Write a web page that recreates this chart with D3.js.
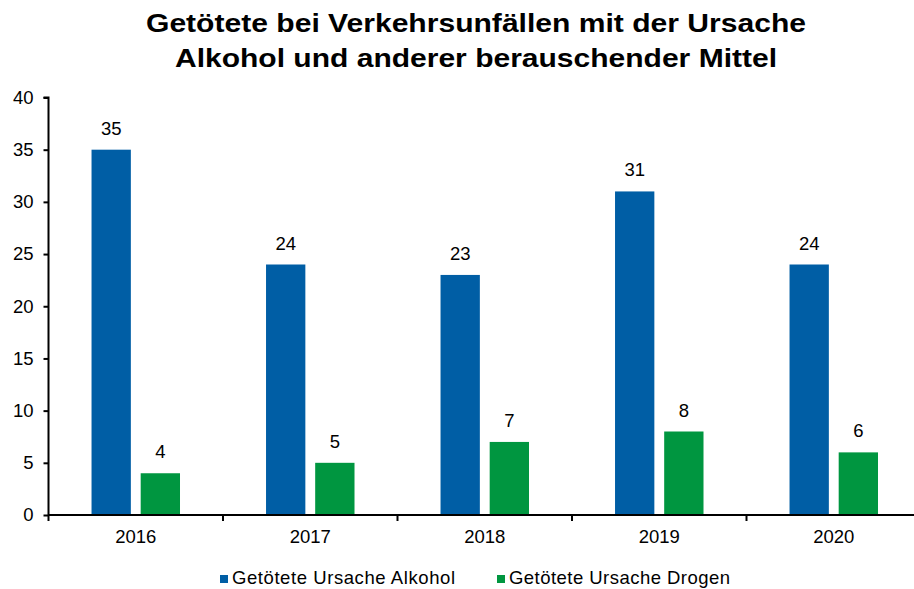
<!DOCTYPE html>
<html><head><meta charset="utf-8">
<script src="https://cdn.jsdelivr.net/npm/d3@7"></script>
<style>body{margin:0;background:#fff}svg{display:block}text{font-family:"Liberation Sans",Arial,sans-serif}</style>
</head><body>
<svg id="c" width="914" height="589"></svg>
<script>
const titleLines = ["Getötete bei Verkehrsunfällen mit der Ursache", "Alkohol und anderer berauschender Mittel"];
const categories = ["2016", "2017", "2018", "2019", "2020"];
const seriesNames = ["Getötete Ursache Alkohol", "Getötete Ursache Drogen"];
const alkohol = [35, 24, 23, 31, 24];
const drogen = [4, 5, 7, 8, 6];
const yTicks = [0, 5, 10, 15, 20, 25, 30, 35, 40];
const colors = ["#005EA5", "#009640"];

const FS = 18.5;
const svg = d3.select("#c");
const pLeft = 48.5, pRight = 921, pTop = 97.5, pBottom = 515;
const x0 = d3.scaleBand().domain(categories).range([pLeft, pRight]).padding(0);
const bw = x0.bandwidth();
const x1 = d3.scaleBand().domain([0, 1]).range([bw * 0.2466, bw * 0.7536]).paddingInner(0.2);
const y = d3.scaleLinear().domain([0, 40]).range([pBottom, pTop]);

// title
titleLines.forEach((t, i) => {
  svg.append("text").attr("x", 476).attr("y", 32 + i * 35)
    .attr("text-anchor", "middle").attr("font-size", 26).attr("font-weight", "bold").attr("fill", "#000").text(t)
    .attr("textLength", i === 0 ? 660 : 602).attr("lengthAdjust", "spacingAndGlyphs");
});

// bars
const data = categories.map((c, i) => ({c, v: [alkohol[i], drogen[i]]}));
const g = svg.append("g");
data.forEach(d => {
  d.v.forEach((v, s) => {
    const bx = x0(d.c) + x1(s);
    g.append("rect").attr("x", bx).attr("y", y(v)).attr("width", x1.bandwidth()).attr("height", y(0) - y(v)).attr("fill", colors[s]);
    g.append("text").attr("x", bx + x1.bandwidth() / 2).attr("y", y(v) - 15)
      .attr("text-anchor", "middle").attr("font-size", FS).attr("fill", "#000").text(v);
  });
});

// y axis
const yAxis = d3.axisLeft(y).tickValues(yTicks).tickSize(5).tickPadding(10);
const ya = svg.append("g").attr("transform", `translate(${pLeft},0)`).call(yAxis);
ya.select(".domain").attr("stroke", "#000").attr("stroke-width", 2).attr("d", `M-5,${pTop}H0V${pBottom}`);
ya.selectAll(".tick line").attr("stroke", "#000").attr("stroke-width", 2);
ya.selectAll(".tick text").attr("font-size", FS).attr("fill", "#000").attr("font-family", "Liberation Sans, Arial, sans-serif");

// x axis
const xa = svg.append("g").attr("transform", `translate(0,${pBottom})`).call(d3.axisBottom(x0).tickSize(0).tickPadding(15));
xa.select(".domain").attr("stroke", "#000").attr("stroke-width", 2).attr("d", `M${pLeft},0H${pRight}`);
xa.selectAll(".tick text").attr("font-size", FS).attr("fill", "#000").attr("font-family", "Liberation Sans, Arial, sans-serif");
const bounds = categories.map(c => x0(c)).concat([pRight]);
svg.append("g").selectAll("line").data(bounds).join("line")
  .attr("x1", d => d).attr("x2", d => d).attr("y1", pBottom).attr("y2", pBottom + 6)
  .attr("stroke", "#000").attr("stroke-width", 2);

// legend
const legX = [220, 497];
seriesNames.forEach((n, i) => {
  svg.append("rect").attr("x", legX[i]).attr("y", 575).attr("width", 8).attr("height", 8).attr("fill", colors[i]);
  svg.append("text").attr("x", legX[i] + 12).attr("y", 584).attr("font-size", FS).attr("fill", "#000")
    .attr("textLength", i === 0 ? 223 : 221).attr("lengthAdjust", "spacing").text(n);
});
</script>
</body></html>
